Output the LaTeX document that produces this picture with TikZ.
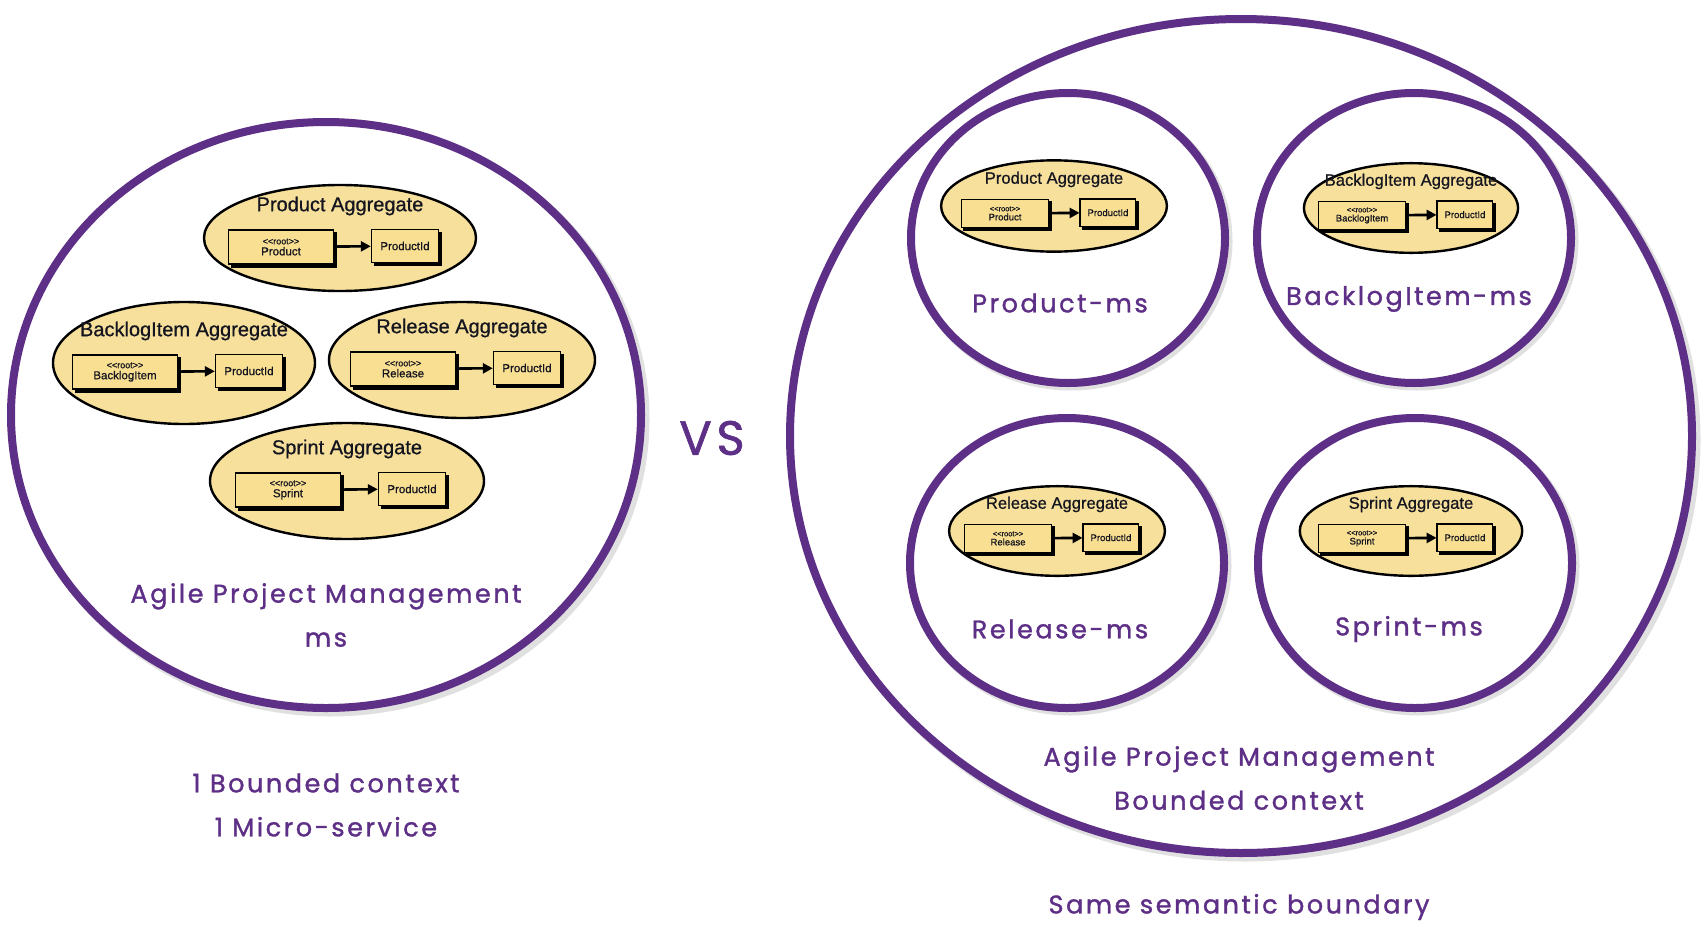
\documentclass[tikz,border=0pt]{standalone}
\usepackage{fontspec}
\setmainfont{Liberation Sans}
\newfontfamily\aggfont{Liberation Sans}[FakeBold=0.8]
\newfontfamily\hand{Poppins}[LetterSpace=10,FakeBold=1.3]
\usetikzlibrary{shapes.geometric,arrows.meta}
\definecolor{apurple}{HTML}{5E2F86}
\definecolor{ayellow}{HTML}{F6E09C}
\definecolor{byellow}{HTML}{F8DF92}
\definecolor{aink}{HTML}{15151F}
\tikzset{
  ring/.style={draw=apurple, line width=8pt},
  ringshadow/.style={draw=black!12, line width=9pt},
  aggell/.style={ellipse, draw=black, line width=2.4pt, fill=ayellow, inner sep=0pt},
  aggbox/.style={draw=black, line width=1.4pt, fill=byellow, inner sep=0pt, align=center, font=\aggfont, text=aink},
  aggtitle/.style={font=\aggfont\fontsize{20}{22}\selectfont, text=aink},
  hlabel/.style={text=apurple, font=\hand\fontsize{25.5}{44}\selectfont, align=center},
  aggarrow/.style={line width=2.6pt, -{Triangle[length=10pt,width=10pt]}},
}
% name, x, y, scale, rx, ry, title, root
\newcommand\agg[8]{%
\begin{scope}[shift={(#2,#3)}, scale=#4, transform shape]
  \node[aggell, minimum width={2*#5pt}, minimum height={2*#6pt}] (#1) at (0,0) {};
  \node[aggtitle] (#1-t) at (0,-32) {#7};
  \node[aggbox, fill=black, minimum width=105pt, minimum height=34pt] (#1-rs) at (-56,12) {};
  \node[aggbox, minimum width=105pt, minimum height=34pt] (#1-r) at (-59,9)
    {\fontsize{9}{9}\selectfont <<root>>\\[-1pt]\fontsize{11.5}{12}\selectfont #8};
  \node[aggbox, fill=black, minimum width=67pt, minimum height=33pt] (#1-is) at (68,11) {};
  \node[aggbox, minimum width=67pt, minimum height=33pt] (#1-i) at (65,8)
    {\fontsize{11.5}{12}\selectfont ProductId};
  \draw[aggarrow] (#1-r) -- (#1-i);
\end{scope}}
\begin{document}
\begin{tikzpicture}[x=1pt, y=-1pt]
\path[use as bounding box, fill=white] (0,0) rectangle (1704,926);

% left big circle
\draw[ringshadow] (330,419) ellipse [x radius=315pt, y radius=293pt];
\node[ellipse, ring, fill=white, minimum width=630pt, minimum height=586pt] (left) at (326,415) {};

% right big circle
\draw[ringshadow] (1245,440) ellipse [x radius=451pt, y radius=417pt];
\node[ellipse, ring, fill=white, minimum width=902pt, minimum height=834pt] (right) at (1241,436) {};

% small circles
\foreach \n/\x/\y in {pms/1068/238, bms/1414/238, rms/1067/563, sms/1415/563}{
  \draw[ringshadow] (\x+3,\y+3) ellipse [x radius=157pt, y radius=145pt];
  \node[ellipse, ring, fill=white, minimum width=314pt, minimum height=290pt] (\n) at (\x,\y) {};
}

% left aggregates
\agg{lp}{340}{238}{1}{136}{53}{Product Aggregate}{Product}
\agg{lb}{184}{363}{1}{131}{61}{BacklogItem Aggregate}{BacklogItem}
\agg{lr}{462}{360}{1}{133}{58}{Release Aggregate}{Release}
\agg{ls}{347}{481}{1}{137}{58}{Sprint Aggregate}{Sprint}

% right aggregates
\agg{rp}{1054}{206}{0.83}{136}{55}{Product Aggregate}{Product}
\agg{rb}{1411}{208}{0.83}{129}{54}{BacklogItem Aggregate}{BacklogItem}
\agg{rr}{1057}{531}{0.83}{130}{54}{Release Aggregate}{Release}
\agg{rs}{1411}{531}{0.83}{134}{54}{Sprint Aggregate}{Sprint}

% labels
\node[hlabel] (llab) at (326,615) {Agile Project Management\\ms};
\node[hlabel] (lcap) at (326,805) {1 Bounded context\\1 Micro-service};
\node[hlabel, font=\hand\fontsize{48}{50}\selectfont] (vs) at (712,438) {VS};
\node[hlabel] (pmsl) at (1060,303) {Product-ms};
\node[hlabel] (bmsl) at (1409,299) {BacklogItem-ms};
\node[hlabel] (rmsl) at (1060,629) {Release-ms};
\node[hlabel] (smsl) at (1409,629) {Sprint-ms};
\node[hlabel] (rlab) at (1239,778) {Agile Project Management\\Bounded context};
\node[hlabel] (same) at (1239,907) {Same semantic boundary};
\end{tikzpicture}
\end{document}
